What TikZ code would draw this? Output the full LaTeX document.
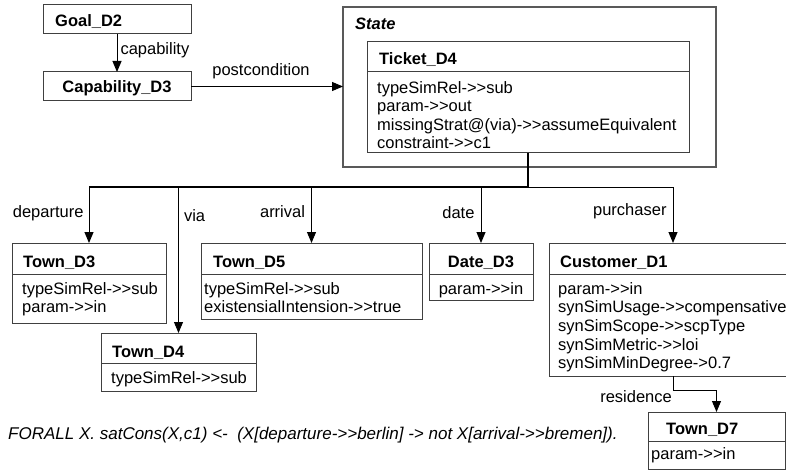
\documentclass[tikz,border=0pt]{standalone}
\usepackage{fontspec}
\setmainfont{Liberation Sans}[Ligatures=TeXOff]
\usetikzlibrary{arrows.meta}
\newcommand{\fs}{\fontsize{16.5}{18.6}\selectfont}
\tikzset{
>={Triangle[length=11pt,width=9pt]},
klasse/.style={draw=black!75,line width=1pt,anchor=north west,inner sep=0pt,outer sep=0pt},
kopf/.style={font=\fs\bfseries,anchor=base west,inner sep=0pt},
attr/.style={font=\fs,align=left,anchor=north west,inner sep=0pt},
rolle/.style={font=\fs,inner sep=0pt},
pfeil/.style={->,line width=1pt},
trenn/.style={draw=black!75,line width=1pt}}

\begin{document}
\begin{tikzpicture}[x=1pt,y=-1pt,font=\fs]

\clip (0,0) rectangle (786,473);

% boxes
\node[klasse,minimum width=148,minimum height=29] (goal) at (43,5) {};
\node[kopf] at (55,27) {Goal\_D2};

\node[klasse,minimum width=148,minimum height=29] (cap) at (43,72) {};
\node[kopf,anchor=base] at (cap.center |- 0,93) {Capability\_D3};

\node[klasse,line width=1.2pt,draw=black!65,minimum width=373,minimum height=160] (state) at (343,7) {};
\node[kopf,font=\fs\bfseries\itshape] at (355,30) {State};

\node[klasse,minimum width=322,minimum height=111] (ticket) at (367,42) {};
\draw[trenn] ([yshift=-30]ticket.north west) -- ([yshift=-30]ticket.north east);
\node[kopf] at (379,65) {Ticket\_D4};
\node[attr] at (377,81) {\rule{0pt}{12pt}typeSimRel->>sub\\param->>out\\missingStrat@(via)->>assumeEquivalent\\constraint->>c1};

\node[klasse,minimum width=154,minimum height=80] (town3) at (12,243) {};
\draw[trenn] ([yshift=-31]town3.north west) -- ([yshift=-31]town3.north east);
\node[kopf] at (23,267) {Town\_D3};
\node[attr] at (22,282) {\rule{0pt}{12pt}typeSimRel->>sub\\param->>in};

\node[klasse,minimum width=221,minimum height=76] (town5) at (201,243) {};
\draw[trenn] ([yshift=-31]town5.north west) -- ([yshift=-31]town5.north east);
\node[kopf] at (213,267) {Town\_D5};
\node[attr] at (204,282) {\rule{0pt}{12pt}typeSimRel->>sub\\existensialIntension->>true};

\node[klasse,minimum width=104,minimum height=57] (date3) at (429,243) {};
\draw[trenn] ([yshift=-31]date3.north west) -- ([yshift=-31]date3.north east);
\node[kopf,anchor=base] at (date3.center |- 0,267) {Date\_D3};
\node[attr,anchor=north] at (date3.center |- 0,282) {\rule{0pt}{12pt}param->>in};

\node[klasse,minimum width=248,minimum height=133] (cust1) at (549,243) {};
\draw[trenn] ([yshift=-31]cust1.north west) -- ([yshift=-31]cust1.north east);
\node[kopf] at (560,267) {Customer\_D1};
\node[attr] at (558,282) {\rule{0pt}{12pt}param->>in\\synSimUsage->>compensative\\synSimScope->>scpType\\synSimMetric->>loi\\synSimMinDegree->0.7};

\node[klasse,minimum width=155,minimum height=58] (town4) at (101,333) {};
\draw[trenn] ([yshift=-30]town4.north west) -- ([yshift=-30]town4.north east);
\node[kopf] at (112,357) {Town\_D4};
\node[attr] at (111,371) {\rule{0pt}{12pt}typeSimRel->>sub};

\node[klasse,minimum width=137,minimum height=57] (town7) at (648,412) {};
\draw[trenn] ([yshift=-29]town7.north west) -- ([yshift=-29]town7.north east);
\node[kopf] at (666,434) {Town\_D7};
\node[attr] at (651,447) {\rule{0pt}{12pt}param->>in};

% connectors
\draw[pfeil] (goal) -- node[rolle,pos=.55,anchor=base west,xshift=3pt] {capability} (cap);
\draw[pfeil] (cap.east) -- node[rolle,midway,anchor=base,xshift=-6pt,yshift=10.5pt] {postcondition} (cap.east -| state.west);

\coordinate (bus) at (0,187);
\draw[line width=2pt] (ticket.south) -- (ticket.south |- bus) -- (town3.north |- bus);
\draw[line width=1pt] (ticket.south |- bus) -- (cust1.north |- bus);

\draw[pfeil] (town3.north |- bus) -- node[rolle,pos=.54,anchor=base east,xshift=-5pt] {departure} (town3.north);
\draw[pfeil] (town4.north |- bus) -- node[rolle,pos=.233,anchor=base west,xshift=5pt] {via} (town4.north);
\draw[pfeil] (town5.north |- bus) -- node[rolle,pos=.54,anchor=base east,xshift=-6pt] {arrival} (town5.north);
\draw[pfeil] (date3.north |- bus) -- node[rolle,pos=.57,anchor=base east,xshift=-6pt] {date} (date3.north);
\draw[pfeil] (cust1.north |- bus) -- node[rolle,pos=.5,anchor=base east,xshift=-6pt] {purchaser} (cust1.north);

\draw[pfeil] (cust1.south) -- ++(0,14) -| (town7.north);
\node[rolle,anchor=base east] (res) at (672,402) {residence};

% constraint
\node[rolle,anchor=base west,font=\fontsize{17}{20}\selectfont\itshape] (regel) at (8,439)
  {FORALL X. satCons(X,c1) <-\ \ (X[departure->>berlin] -> not X[arrival->>bremen]).};
\end{tikzpicture}
\end{document}
